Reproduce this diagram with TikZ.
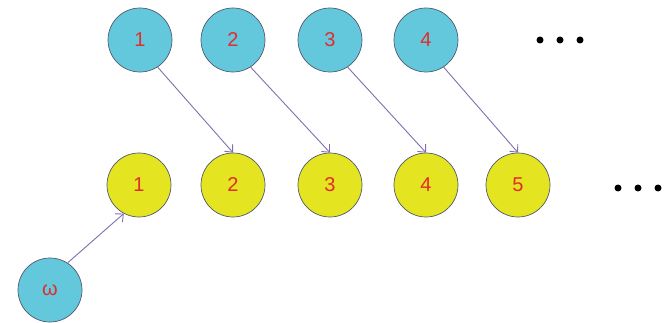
\documentclass[tikz,border=0pt]{standalone}
\usepackage{fontspec}
\setmainfont{Liberation Sans}
\usetikzlibrary{arrows.meta}
\definecolor{cyanfill}{RGB}{100,200,220}
\definecolor{yelfill}{RGB}{228,228,32}
\definecolor{numred}{RGB}{225,45,45}
\definecolor{arrowcol}{RGB}{130,110,175}
\definecolor{rimcol}{RGB}{80,90,110}
\begin{document}
\begin{tikzpicture}[x=1pt,y=-1pt,
  topnode/.style={circle,draw=rimcol,line width=0.7pt,fill=cyanfill,minimum size=64pt,inner sep=0pt,text=numred,font=\fontsize{20}{20}\selectfont},
  botnode/.style={circle,draw=rimcol,line width=0.7pt,fill=yelfill,minimum size=64pt,inner sep=0pt,text=numred,font=\fontsize{20}{20}\selectfont},
  link/.style={draw=arrowcol,line width=0.9pt,-{Straight Barb[length=6pt,width=11pt]}},
  dot/.style={circle,fill=black,minimum size=7pt,inner sep=0pt}]
\useasboundingbox (0,0) rectangle (664,323);
\node[topnode] (t1) at (140,40) {1};
\node[topnode] (t2) at (233,40) {2};
\node[topnode] (t3) at (330,40) {3};
\node[topnode] (t4) at (426,40) {4};
\node[botnode] (b1) at (139,185) {1};
\node[botnode] (b2) at (233,185) {2};
\node[botnode] (b3) at (330,185) {3};
\node[botnode] (b4) at (426,185) {4};
\node[botnode] (b5) at (518,185) {5};
\node[topnode] (w) at (50,290) {ω};
\node[dot] (d1) at (540,40) {};
\node[dot] (d2) at (560,40) {};
\node[dot] (d3) at (580,40) {};
\node[dot] (e1) at (618,188) {};
\node[dot] (e2) at (638,188) {};
\node[dot] (e3) at (658,188) {};
\draw[link] (t1.-57) -- (b2.north);
\draw[link] (t2.-57) -- (b3.north);
\draw[link] (t3.-57) -- (b4.north);
\draw[link] (t4.-57) -- (b5.north);
\draw[link] (w.57) -- (b1.242);
\end{tikzpicture}
\end{document}
